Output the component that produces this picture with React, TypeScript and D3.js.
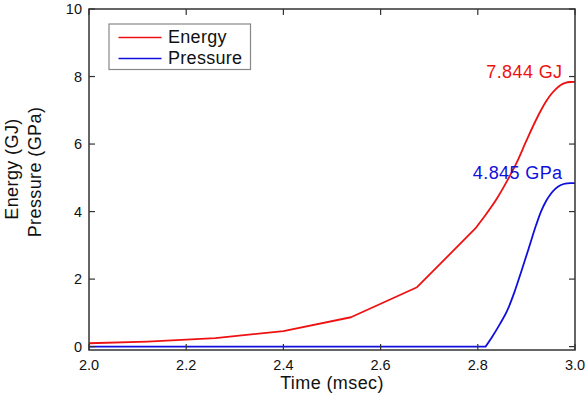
import React from "react";
import * as d3 from "d3";

const energyTime = [2.0, 2.12, 2.26, 2.4, 2.539, 2.675, 2.795, 2.816, 2.84, 2.86, 2.88, 2.9, 2.92, 2.93, 2.94, 2.95, 2.96, 2.97, 2.98, 2.99, 3.0];
const energyValue = [0.1, 0.15, 0.25, 0.46, 0.87, 1.76, 3.5, 3.9, 4.4, 4.9, 5.45, 6.1, 6.72, 7.0, 7.25, 7.46, 7.62, 7.74, 7.81, 7.838, 7.844];
const pressureTime = [2.0, 2.816, 2.83, 2.846, 2.86, 2.875, 2.89, 2.905, 2.92, 2.93, 2.94, 2.95, 2.96, 2.97, 2.98, 2.99, 3.0];
const pressureValue = [0, 0, 0.3, 0.68, 1.05, 1.6, 2.25, 2.92, 3.6, 4.0, 4.3, 4.52, 4.68, 4.78, 4.83, 4.843, 4.845];
const xTicks = [2.0, 2.2, 2.4, 2.6, 2.8, 3.0];
const yTicks = [0, 2, 4, 6, 8, 10];
const seriesNames = ["Energy", "Pressure"];
const seriesColors = ["#ee1111", "#1010dd"];
const annotations = ["7.844 GJ", "4.845 GPa"];
const annotationValues = [7.844, 4.845];
const smoothFrom = 2.816;

const W = 588;
const H = 404;
const L = 89;
const R = 575;
const T = 9;
const B = 350;
const FONT = "'Liberation Sans', Arial, sans-serif";

export default function App() {
  const x = d3.scaleLinear().domain([2.0, 3.0]).range([L, R]);
  const y = d3.scaleLinear().domain([-0.1, 10]).range([B, T]);
  const linear = d3
    .line<[number, number]>()
    .x((d) => x(d[0]))
    .y((d) => y(d[1]))
    .curve(d3.curveLinear);
  const smooth = d3
    .line<[number, number]>()
    .x((d) => x(d[0]))
    .y((d) => y(d[1]))
    .curve(d3.curveMonotoneX);
  const split = (ts: number[], vs: number[]) => {
    const pts = ts.map((t, i) => [t, vs[i]] as [number, number]);
    const a = pts.filter((p) => p[0] <= smoothFrom);
    const b = pts.filter((p) => p[0] >= smoothFrom);
    return (linear(a) || "") + " " + (smooth(b) || "").replace(/^M/, "L");
  };
  const energyD = split(energyTime, energyValue);
  const pressureD = split(pressureTime, pressureValue);
  const axisColor = "#333";
  const tickLen = 6;

  return (
    <svg
      width={W}
      height={H}
      style={{ position: "absolute", left: 0, top: 0, background: "#fff" }}
      fontFamily={FONT}
    >
      <rect x={0} y={0} width={W} height={H} fill="#fff" />
      <path d={energyD} fill="none" stroke={seriesColors[0]} strokeWidth={1.8} strokeLinejoin="round" />
      <path d={pressureD} fill="none" stroke={seriesColors[1]} strokeWidth={1.8} strokeLinejoin="round" />

      <rect x={L} y={T} width={R - L} height={B - T} fill="none" stroke={axisColor} strokeWidth={1.5} />

      {xTicks.map((t) => (
        <g key={"x" + t}>
          <line x1={x(t)} x2={x(t)} y1={B} y2={B - tickLen} stroke={axisColor} strokeWidth={1.2} />
          <line x1={x(t)} x2={x(t)} y1={T} y2={T + tickLen} stroke={axisColor} strokeWidth={1.2} />
          <text x={x(t)} y={B + 19.5} textAnchor="middle" fontSize={14.5} fill="#111">
            {t.toFixed(1)}
          </text>
        </g>
      ))}
      {yTicks.map((t) => (
        <g key={"y" + t}>
          <line x1={L} x2={L + tickLen} y1={y(t)} y2={y(t)} stroke={axisColor} strokeWidth={1.2} />
          <line x1={R} x2={R - tickLen} y1={y(t)} y2={y(t)} stroke={axisColor} strokeWidth={1.2} />
          <text x={L - 7} y={y(t)} dy="0.36em" textAnchor="end" fontSize={14.5} fill="#111">
            {t}
          </text>
        </g>
      ))}

      <text x={(L + R) / 2} y={389} textAnchor="middle" fontSize={18} letterSpacing={0.4} fill="#111">
        Time (msec)
      </text>
      <text transform={`translate(17.5, 169) rotate(-90)`} textAnchor="middle" fontSize={18} letterSpacing={0.4} fill="#111">
        Energy (GJ)
      </text>
      <text transform={`translate(41, 172) rotate(-90)`} textAnchor="middle" fontSize={18} letterSpacing={0.4} fill="#111">
        Pressure (GPa)
      </text>

      <rect x={109} y={24} width={141.5} height={45.5} fill="#fff" stroke="#888" strokeWidth={1.2} />
      {seriesNames.map((n, i) => (
        <g key={n}>
          <line x1={118.5} x2={161.5} y1={37.5 + i * 21} y2={37.5 + i * 21} stroke={seriesColors[i]} strokeWidth={1.6} />
          <text x={168} y={43 + i * 21.3} fontSize={18} letterSpacing={0.3} fill="#111">
            {n}
          </text>
        </g>
      ))}

      {annotations.map((a, i) => (
        <text
          key={a}
          x={562.5}
          y={y(annotationValues[i]) - 4}
          textAnchor="end"
          fontSize={18}
          letterSpacing={0.4}
          fill={seriesColors[i]}
        >
          {a}
        </text>
      ))}
    </svg>
  );
}
